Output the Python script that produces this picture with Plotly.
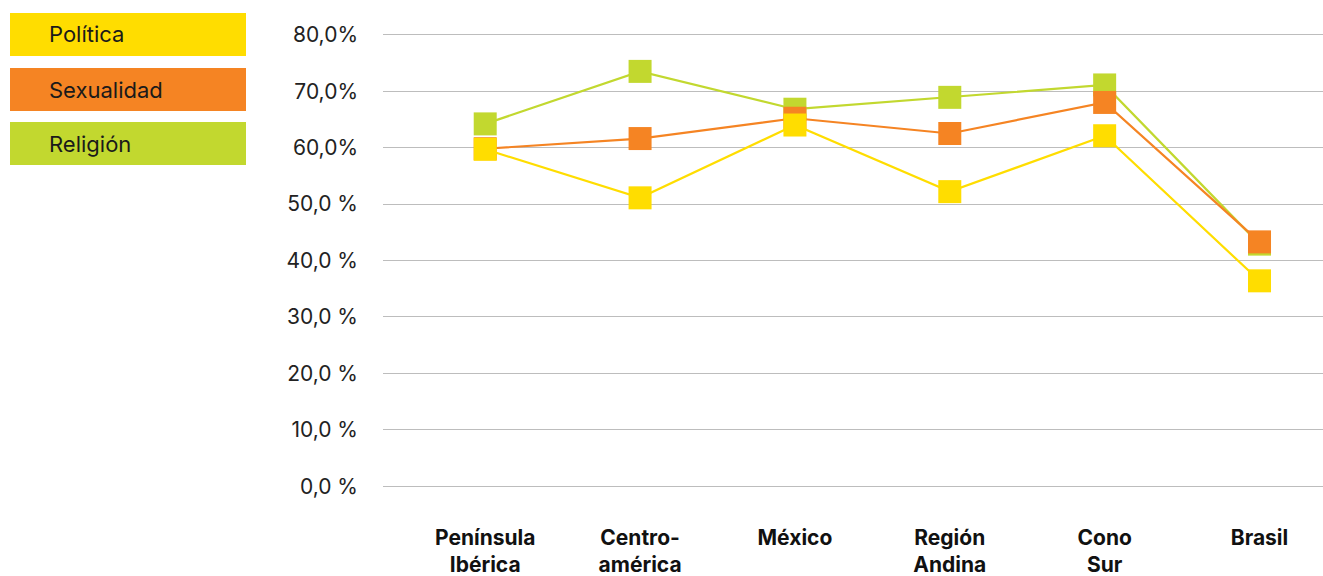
import plotly.graph_objects as go

categories = ["Península<br>Ibérica", "Centro-<br>américa", "México", "Región<br>Andina", "Cono<br>Sur", "Brasil"]
politica = [59.7, 51.1, 64.0, 52.2, 62.1, 36.4]
sexualidad = [59.8, 61.6, 65.2, 62.5, 68.0, 43.3]
religion = [64.2, 73.5, 66.8, 68.9, 71.1, 42.9]
series_names = ["Política", "Sexualidad", "Religión"]
colors = ["#FFDD00", "#F58423", "#C2D82F"]
tick_vals = [0, 10, 20, 30, 40, 50, 60, 70, 80]
tick_text = ["0,0 %", "10,0 %", "20,0 %", "30,0 %", "40,0 %", "50,0 %", "60,0%", "70,0%", "80,0%"]

FONT = "Inter, Open Sans, sans-serif"

fig = go.Figure()
# draw order: Religión bottom, then Sexualidad, then Política on top
for name, vals, col in [(series_names[2], religion, colors[2]),
                        (series_names[1], sexualidad, colors[1]),
                        (series_names[0], politica, colors[0])]:
    fig.add_trace(go.Scatter(
        x=categories, y=vals, name=name, mode="lines+markers",
        line=dict(color=col, width=2.2),
        marker=dict(symbol="square", size=23, color=col, line=dict(width=0)),
        showlegend=False, hoverinfo="skip"))

L, R, T, B = 383, 0, 33, 88
W, H = 1323, 576
pw, ph = W - L - R, H - T - B

def px_x(px):
    return (px - L) / pw

def px_y(py):
    return (H - B - py) / ph

boxes = [(13, 56), (68, 111), (122, 165)]
for (y0, y1), name, col in zip(boxes, series_names, colors):
    fig.add_shape(type="rect", xref="paper", yref="paper",
                  x0=px_x(10), x1=px_x(246), y0=px_y(y1), y1=px_y(y0),
                  fillcolor=col, line=dict(width=0), layer="above")
    fig.add_annotation(xref="paper", yref="paper", x=px_x(47), y=px_y((y0 + y1) / 2),
                       text=name, showarrow=False, xanchor="left", yanchor="middle",
                       font=dict(family=FONT, size=22, color="#1a1a1a"))

fig.update_layout(
    width=W, height=H,
    margin=dict(l=L, r=R, t=T, b=B, autoexpand=False),
    paper_bgcolor="white", plot_bgcolor="white",
    font=dict(family=FONT, color="#222"),
)
fig.update_xaxes(
    type="category", range=[-0.66, 5.41], automargin=False,
    showgrid=False, zeroline=False, showline=False, ticks="",
    tickfont=dict(family=FONT, size=21, color="#111", weight="bold"),
    ticklabelstandoff=35,
)
fig.update_yaxes(
    range=[-0.3, 80.3], tickvals=tick_vals, ticktext=tick_text, automargin=False,
    showgrid=True, gridcolor="#BDBDBD", gridwidth=1, zeroline=False, showline=False,
    ticks="", tickfont=dict(family=FONT, size=21, color="#222"),
    ticklabelstandoff=24,
)

fig.write_html(
    "out.html",
    config={"displayModeBar": False},
    post_script="document.body.style.margin='0';document.body.style.overflow='hidden';document.documentElement.style.overflow='hidden';",
)
